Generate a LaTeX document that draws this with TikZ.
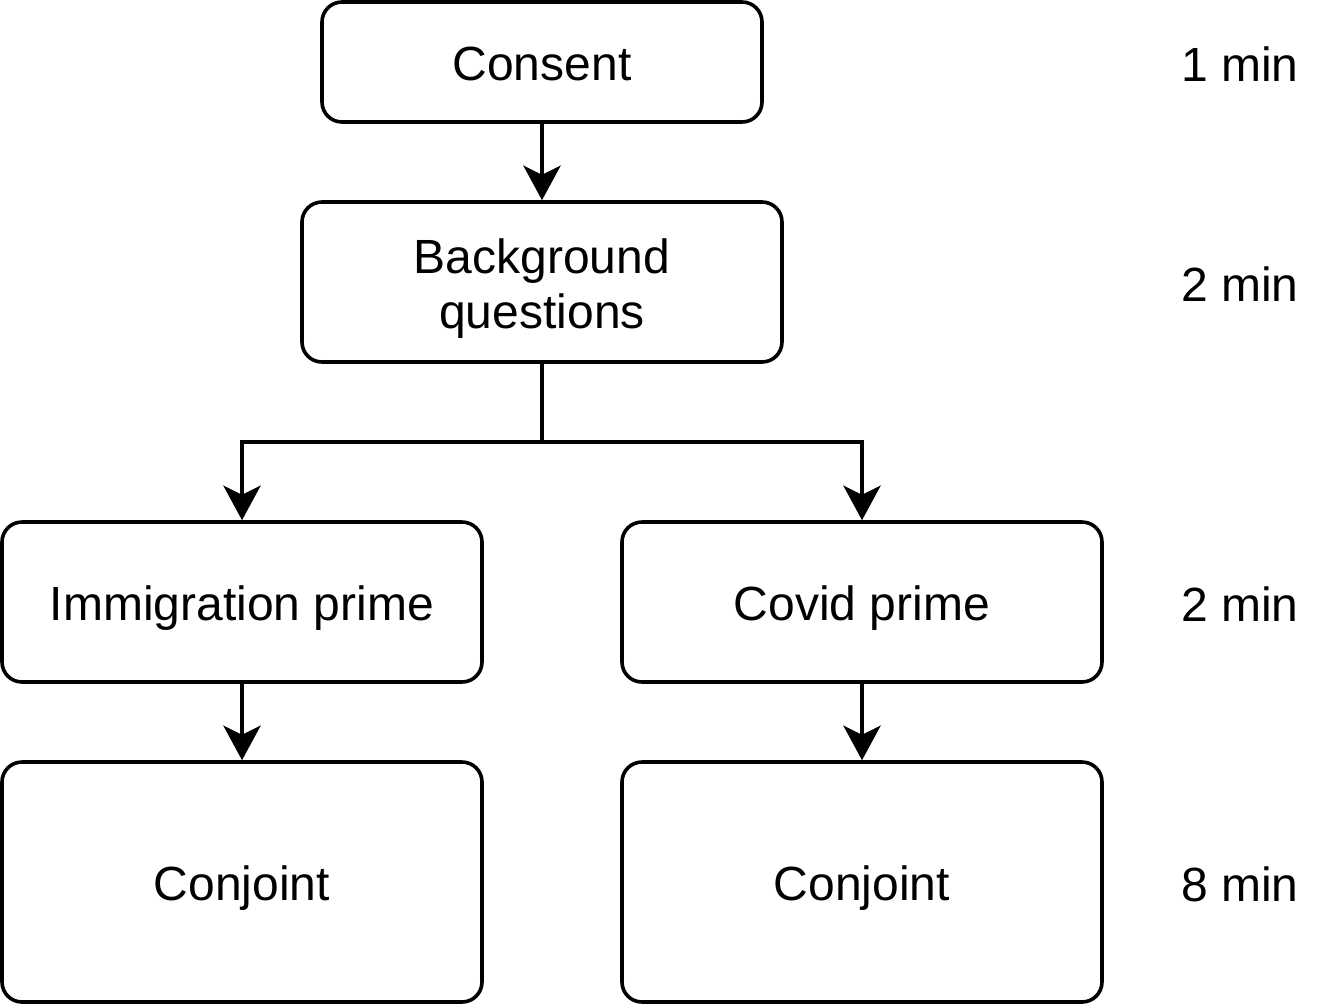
\documentclass[tikz,border=0pt]{standalone}
\usepackage{fontspec}
\setmainfont{Liberation Sans}
\usetikzlibrary{arrows.meta}
\newcommand{\onel}[1]{\raisebox{-13.5pt}[0pt][0pt]{#1}}
\newcommand{\twol}[1]{\raisebox{6.75pt}[0pt][0pt]{\begin{tabular}[t]{@{}c@{}}#1\end{tabular}}}
\begin{document}
\begin{tikzpicture}[x=0.75pt,y=-0.75pt,
  box/.style={draw=black,line width=2.7pt,rounded corners=15pt,fill=white,align=center,font=\fontsize{36}{41.25}\selectfont,inner sep=0pt},
  lab/.style={font=\fontsize{36}{41.25}\selectfont,inner sep=0pt},
  conn/.style={line width=2.7pt,-{Stealth[length=26pt,width=28pt,inset=7pt]}},
  plain/.style={line width=2.7pt}]
\useasboundingbox (0,0) rectangle (1324,1004);
\node[box,minimum width=330pt,minimum height=90pt] (consent) at (542,62) {\onel{Consent}};
\node[box,minimum width=360pt,minimum height=120pt] (bg) at (542,282) {\twol{Background\\questions}};
\node[box,minimum width=360pt,minimum height=120pt] (imm) at (242,602) {\onel{Immigration prime}};
\node[box,minimum width=360pt,minimum height=120pt] (cov) at (862,602) {\onel{Covid prime}};
\node[box,minimum width=360pt,minimum height=180pt] (conjL) at (242,882) {\onel{Conjoint}};
\node[box,minimum width=360pt,minimum height=180pt] (conjR) at (862,882) {\onel{Conjoint}};
\node[lab] (t1) at (1240,63) {\onel{1 min}};
\node[lab] (t2) at (1240,283) {\onel{2 min}};
\node[lab] (t3) at (1240,603) {\onel{2 min}};
\node[lab] (t4) at (1240,883) {\onel{8 min}};
\coordinate (split) at (542,442);
\draw[conn] (consent.south) -- (bg.north);
\draw[plain] (bg.south) -- (split);
\draw[conn] (split) -| (imm.north);
\draw[conn] (split) -| (cov.north);
\draw[conn] (imm.south) -- (conjL.north);
\draw[conn] (cov.south) -- (conjR.north);
\end{tikzpicture}
\end{document}
